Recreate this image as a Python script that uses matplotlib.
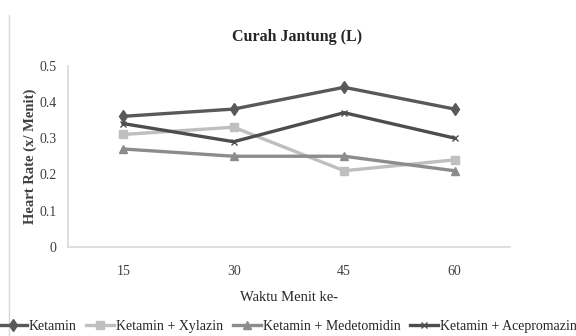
import matplotlib
matplotlib.use("Agg")
from matplotlib import pyplot as plt
from matplotlib.lines import Line2D

menit = ["15", "30", "45", "60"]
ketamin = [0.36, 0.38, 0.44, 0.38]
xylazin = [0.31, 0.33, 0.21, 0.24]
medetomidin = [0.27, 0.25, 0.25, 0.21]
acepromazin = [0.34, 0.29, 0.37, 0.30]

plt.rcParams['font.family'] = ['Liberation Serif', 'DejaVu Serif']

fig = plt.figure(figsize=(5.76, 3.36), dpi=100)
ax = fig.add_axes([0.118, 0.265, 0.767, 0.54])

x = range(len(menit))
ax.plot(x, ketamin, color='#595959', lw=2.4, marker='d', ms=6, label='Ketamin')
ax.plot(x, xylazin, color='#bfbfbf', lw=2.4, marker='s', ms=6, label='Ketamin + Xylazin')
ax.plot(x, medetomidin, color='#8c8c8c', lw=2.4, marker='^', ms=6, label='Ketamin + Medetomidin')
ax.plot(x, acepromazin, color='#4d4d4d', lw=2.4, marker='x', ms=5, mew=1, label='Ketamin + Acepromazin')

ax.set_xlim(-0.5, 3.5)
ax.set_ylim(0, 0.5)
ax.set_xticks(list(x))
ax.set_xticklabels(menit)
ax.set_yticks([0, 0.1, 0.2, 0.3, 0.4, 0.5])
ax.set_yticklabels(['0', '0.1', '0.2', '0.3', '0.4', '0.5'])
ax.tick_params(axis='y', length=0, labelsize=10, colors='#404040', pad=8)
ax.tick_params(axis='x', length=0, labelsize=10, colors='#404040', pad=13)

for s in ['top', 'right']:
    ax.spines[s].set_visible(False)
for s in ['left', 'bottom']:
    ax.spines[s].set_color('#d9d9d9')
    ax.spines[s].set_linewidth(1.2)

fig.text(0.515, 0.89, 'Curah Jantung (L)', ha='center', va='center',
         fontsize=11.5, fontweight='bold', color='#262626')
ax.set_ylabel('Heart Rate (x/ Menit)', fontsize=10.5, fontweight='bold',
              color='#404040', labelpad=2)
ax.set_xlabel('Waktu Menit ke-', fontsize=10.5, color='#262626', labelpad=9)

fig.legend(loc='center', bbox_to_anchor=(0.5, 0.028), ncol=4, frameon=False,
           fontsize=10, handlelength=2.0, handletextpad=0.15, columnspacing=0.7,
           labelcolor='#262626', borderaxespad=0)

# thin frame line along the left edge
fig.add_artist(Line2D([0.016, 0.016], [0.0, 0.955], color='#d9d9d9', lw=1))

fig.savefig('out.png', dpi=100)
